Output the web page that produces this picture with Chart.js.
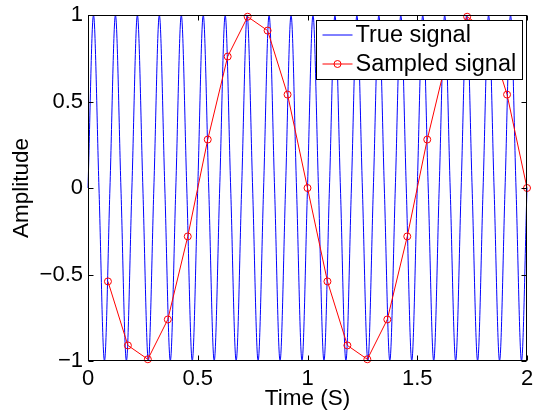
<!DOCTYPE html>
<html>
<head>
<meta charset="utf-8">
<script src="https://cdn.jsdelivr.net/npm/chart.js@4.4.0/dist/chart.umd.min.js"></script>
<style>
  html, body { margin: 0; padding: 0; background: #fff; }
</style>
</head>
<body>
<canvas id="chart" width="533" height="412"></canvas>
<script>
// true signal at its peaks, troughs and zero crossings
const trueTimes = [
  0, 0.025, 0.05, 0.075, 0.1, 0.125, 0.15, 0.175,
  0.2, 0.225, 0.25, 0.275, 0.3, 0.325, 0.35, 0.375,
  0.4, 0.425, 0.45, 0.475, 0.5, 0.525, 0.55, 0.575,
  0.6, 0.625, 0.65, 0.675, 0.7, 0.725, 0.75, 0.775,
  0.8, 0.825, 0.85, 0.875, 0.9, 0.925, 0.95, 0.975,
  1, 1.025, 1.05, 1.075, 1.1, 1.125, 1.15, 1.175,
  1.2, 1.225, 1.25, 1.275, 1.3, 1.325, 1.35, 1.375,
  1.4, 1.425, 1.45, 1.475, 1.5, 1.525, 1.55, 1.575,
  1.6, 1.625, 1.65, 1.675, 1.7, 1.725, 1.75, 1.775,
  1.8, 1.825, 1.85, 1.875, 1.9, 1.925, 1.95, 1.975,
  2
];
const trueValues = [
  0, 1, 0, -1, 0, 1, 0, -1,
  0, 1, 0, -1, 0, 1, 0, -1,
  0, 1, 0, -1, 0, 1, 0, -1,
  0, 1, 0, -1, 0, 1, 0, -1,
  0, 1, 0, -1, 0, 1, 0, -1,
  0, 1, 0, -1, 0, 1, 0, -1,
  0, 1, 0, -1, 0, 1, 0, -1,
  0, 1, 0, -1, 0, 1, 0, -1,
  0, 1, 0, -1, 0, 1, 0, -1,
  0, 1, 0, -1, 0, 1, 0, -1,
  0
];

// sampled signal
const sampleTimes = [
  0.0909, 0.1818, 0.2727, 0.3636, 0.4545, 0.5455, 0.6364, 0.7273, 0.8182, 0.9091, 1.0,
  1.0909, 1.1818, 1.2727, 1.3636, 1.4545, 1.5455, 1.6364, 1.7273, 1.8182, 1.9091, 2.0
];
const sampleValues = [
  -0.54, -0.91, -0.99, -0.76, -0.28, 0.28, 0.76, 0.99, 0.91, 0.54, 0,
  -0.54, -0.91, -0.99, -0.76, -0.28, 0.28, 0.76, 0.99, 0.91, 0.54, 0
];

const xTicks = [0, 0.5, 1, 1.5, 2];
const yTicks = [-1, -0.5, 0, 0.5, 1];
const seriesNames = ['True signal', 'Sampled signal'];

const FONT = "'Liberation Sans', Arial, Helvetica, sans-serif";

function fmt(v) {
  return String(v).replace('-', '\u2212');
}

// MATLAB style box with inward ticks, plus the boxed legend
const axesBox = {
  id: 'axesBox',
  afterDatasetsDraw(chart) {
    const { ctx, chartArea: a, scales: { x, y } } = chart;
    const L = Math.round(a.left) + 0.5, R = Math.round(a.right) - 0.5;
    const T = Math.round(a.top) + 0.5, B = Math.round(a.bottom) - 0.5;
    ctx.save();
    ctx.strokeStyle = '#000';
    ctx.lineWidth = 1;
    ctx.strokeRect(L, T, R - L, B - T);
    ctx.beginPath();
    xTicks.forEach(v => {
      const px = Math.round(x.getPixelForValue(v)) + 0.5;
      ctx.moveTo(px, B); ctx.lineTo(px, B - 5);
      ctx.moveTo(px, T); ctx.lineTo(px, T + 5);
    });
    yTicks.forEach(v => {
      const py = Math.round(y.getPixelForValue(v)) + 0.5;
      ctx.moveTo(L, py); ctx.lineTo(L + 5, py);
      ctx.moveTo(R, py); ctx.lineTo(R - 5, py);
    });
    ctx.stroke();

    // legend
    ctx.font = '23.5px ' + FONT;
    const textW = Math.max(...seriesNames.map(s => ctx.measureText(s).width));
    const w = Math.round(39 + textW + 6);
    const h = 59;
    const bx = Math.round(a.right) - 5 - w + 0.5;
    const by = Math.round(a.top) + 5 + 0.5;
    ctx.fillStyle = '#fff';
    ctx.fillRect(bx, by, w, h);
    ctx.strokeRect(bx, by, w, h);
    const rows = [by + 14.5, by + 43.5];
    const colors = ['#0000ff', '#ff0000'];
    rows.forEach((ry, i) => {
      ctx.strokeStyle = colors[i];
      ctx.beginPath();
      ctx.moveTo(bx + 6, ry); ctx.lineTo(bx + 36, ry);
      ctx.stroke();
      if (i === 1) {
        ctx.beginPath();
        ctx.arc(bx + 21, ry, 3.5, 0, Math.PI * 2);
        ctx.stroke();
      }
      ctx.fillStyle = '#000';
      ctx.textAlign = 'left';
      ctx.textBaseline = 'middle';
      ctx.fillText(seriesNames[i], bx + 39, ry + 1);
    });
    ctx.restore();
  }
};

const ctx = document.getElementById('chart').getContext('2d');
new Chart(ctx, {
  type: 'line',
  data: {
    datasets: [
      {
        label: seriesNames[1],
        data: sampleTimes.map((t, i) => ({ x: t, y: sampleValues[i] })),
        borderColor: '#ff0000',
        borderWidth: 1,
        pointRadius: 3.5,
        pointBorderWidth: 1,
        pointBorderColor: '#ff0000',
        pointBackgroundColor: 'rgba(0,0,0,0)',
        tension: 0,
        clip: 6,
        order: 0
      },
      {
        label: seriesNames[0],
        data: trueTimes.map((t, i) => ({ x: t, y: trueValues[i] })),
        borderColor: '#0000ff',
        borderWidth: 1,
        pointRadius: 0,
        cubicInterpolationMode: 'monotone',
        clip: 2,
        order: 1
      }
    ]
  },
  options: {
    responsive: false,
    animation: false,
    events: [],
    layout: { padding: { top: 15, right: 6, left: 0, bottom: 0 } },
    plugins: { legend: { display: false }, tooltip: { enabled: false } },
    scales: {
      x: {
        type: 'linear',
        min: 0,
        max: 2,
        afterBuildTicks(s) { s.ticks = xTicks.map(v => ({ value: v })); },
        afterFit(s) { s.height = 51; s.paddingLeft = 0; s.paddingRight = 0; },
        grid: { display: false, drawTicks: false },
        border: { display: false },
        ticks: {
          color: '#000',
          font: { family: FONT, size: 22 },
          padding: 5,
          maxRotation: 0,
          callback: v => fmt(v)
        },
        title: {
          display: true,
          text: 'Time (S)',
          color: '#000',
          font: { family: FONT, size: 22.5 },
          padding: { top: 0, bottom: 0 }
        }
      },
      y: {
        type: 'linear',
        min: -1,
        max: 1,
        afterBuildTicks(s) { s.ticks = yTicks.map(v => ({ value: v })); },
        afterFit(s) { s.width = 88; s.paddingTop = 0; s.paddingBottom = 0; },
        grid: { display: false, drawTicks: false },
        border: { display: false },
        ticks: {
          color: '#000',
          font: { family: FONT, size: 22 },
          padding: 5,
          callback: v => fmt(v)
        },
        title: {
          display: true,
          text: 'Amplitude',
          color: '#000',
          font: { family: FONT, size: 22.5 },
          padding: { top: 8, bottom: 0 }
        }
      }
    }
  },
  plugins: [axesBox]
});
</script>
</body>
</html>
